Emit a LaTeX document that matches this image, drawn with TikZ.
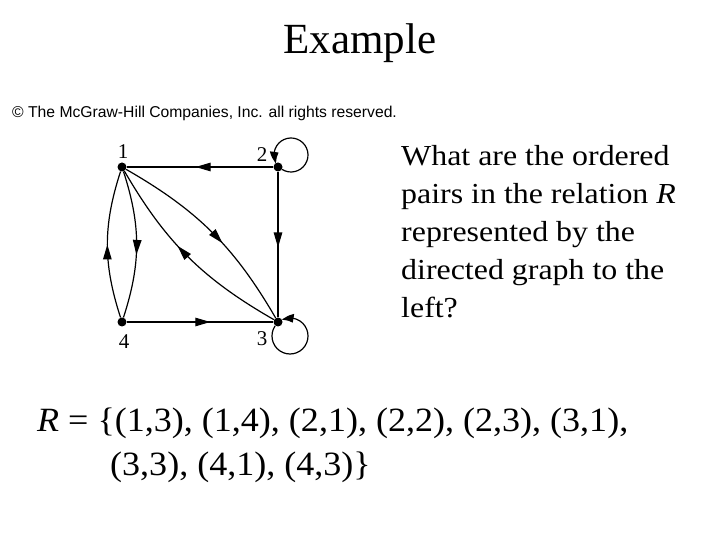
\documentclass[tikz,border=0pt]{standalone}
\usepackage{fontspec}
\setmainfont{Liberation Serif}
\newfontfamily\arialfont{Liberation Sans}
\usetikzlibrary{arrows.meta,decorations.markings,bending}
\tikzset{
  vert/.style={circle,fill=black,inner sep=0pt,minimum size=9bp},
  vlabel/.style={font=\fontsize{21bp}{21bp}\selectfont,inner sep=0pt},
  edgeline/.style={line width=1.2bp},
  midarrow/.style={edgeline,postaction={decorate},decoration={markings,
     mark=at position #1 with {\arrow{Triangle[length=15bp,width=8.5bp]}}}},
  midarrow/.default=0.55,
  loopedge/.style={edgeline,-{Triangle[length=12bp,width=8.5bp,bend]}},
  qline/.style={anchor=base west,inner sep=0pt,xscale=1.1,transform shape,font=\fontsize{29bp}{38bp}\selectfont},
  rline/.style={anchor=base west,inner sep=0pt,xscale=1.06,transform shape,font=\fontsize{34bp}{40bp}\selectfont},
}
\begin{document}
\begin{tikzpicture}[x=1bp,y=1bp]
\useasboundingbox (0,0) rectangle (720,540);
% title
\node[anchor=base,inner sep=0pt,font=\fontsize{43bp}{43bp}\selectfont] (title) at (360,486) {Example};
\node[anchor=base west,inner sep=0pt,font=\arialfont\fontsize{15.7bp}{16bp}\selectfont] (copy) at (12,422) {© The McGraw-Hill Companies, Inc. all rights reserved.};
% graph
\node[vert] (n1) at (122,373) {};
\node[vert] (n2) at (278,373) {};
\node[vert] (n3) at (278,218) {};
\node[vert] (n4) at (122,218) {};
\coordinate (c2) at (291,385);
\coordinate (c3) at (290,204);
\node[vlabel] (l1) at (123,388) {1};
\node[vlabel] (l2) at (262,385) {2};
\node[vlabel] (l3) at (262,201) {3};
\node[vlabel] (l4) at (124,198) {4};
\draw[midarrow=0.53] (n2) -- (n1);
\draw[midarrow=0.52] (n2) -- (n3);
\draw[midarrow=0.57] (n4) -- (n3);
\draw[midarrow=0.57] (n1) to[bend left=18] (n4);
\draw[midarrow=0.5] (n4) to[bend left=18] (n1);
\draw[midarrow=0.57] (n1) to[bend left=15] (n3);
\draw[midarrow=0.57] (n3) to[bend left=15] (n1);
\draw[loopedge] ([shift={(238:17)}]c2) arc[start angle=238,end angle=570,radius=17];
\draw[loopedge] ([shift={(146:18)}]c3) arc[start angle=146,end angle=477,radius=18];
% question
\node[qline] (q1) at (401,374) {What are the ordered};
\node[qline] (q2) at (401,336) {pairs in the relation \textit{R}};
\node[qline] (q3) at (401,298) {represented by the};
\node[qline] (q4) at (401,260) {directed graph to the};
\node[qline] (q5) at (401,222) {left?};
% answer
\node[rline] (r1) at (37,108) {\textit{R} = \{(1,3), (1,4), (2,1), (2,2), (2,3), (3,1),};
\node[rline] (r2) at (110,64) {(3,3), (4,1), (4,3)\}};
\end{tikzpicture}
\end{document}
